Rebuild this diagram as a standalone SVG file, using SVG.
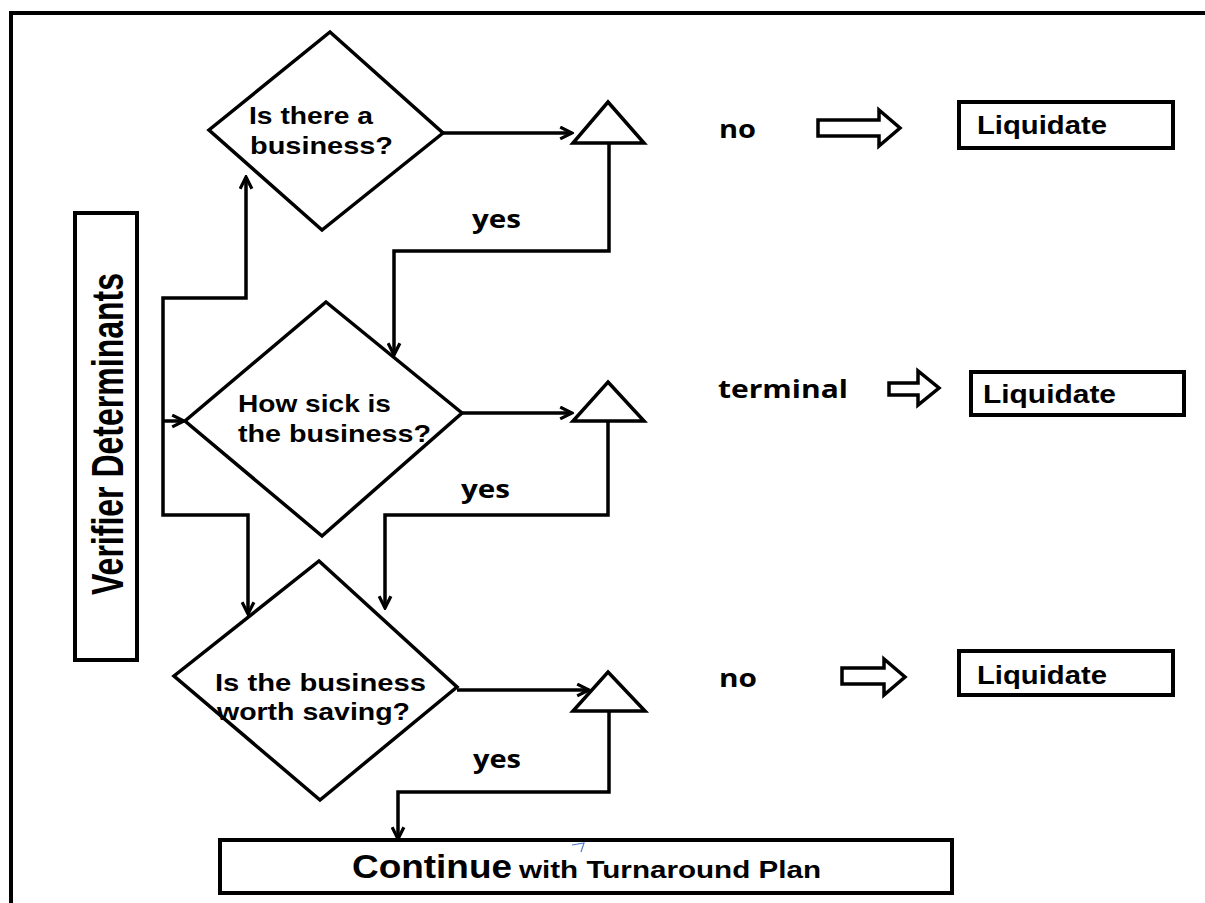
<svg xmlns="http://www.w3.org/2000/svg" width="1205" height="903" viewBox="0 0 1205 903">
<style>
.shape{fill:#fff;stroke:#000;stroke-width:3.5;stroke-linejoin:miter}
.box{fill:#fff;stroke:#000;stroke-width:4}
.conn{fill:none;stroke:#000;stroke-width:3.5;stroke-linejoin:miter}
.t{font-family:"Liberation Sans",Arial,sans-serif;font-weight:bold;fill:#000}
.s{font-family:"Open Sans","Noto Sans",sans-serif;font-weight:bold;fill:#000}
.blk{fill:#fff;stroke:#000;stroke-width:3.5;stroke-linejoin:miter}
</style>
<defs>
<marker id="arr" viewBox="0 0 14 14" refX="12.5" refY="7" markerWidth="15" markerHeight="15" markerUnits="userSpaceOnUse" orient="auto">
<path d="M1.5,1.5 L12.5,7 L1.5,12.5" fill="none" stroke="#000" stroke-width="3"/>
</marker>
</defs>
<rect width="1205" height="903" fill="#fff"/>
<path d="M11,903 L11,13 L1205,13" fill="none" stroke="#000" stroke-width="4"/>

<g id="connectors">
<path class="conn" d="M163,421 L163,298 L246,298 L246,177" marker-end="url(#arr)"/>
<path class="conn" d="M163,421 L163,515 L248,515 L248,614" marker-end="url(#arr)"/>
<path class="conn" d="M163,421 L184,421" marker-end="url(#arr)"/>
<path class="conn" d="M443,133 L572,133" marker-end="url(#arr)"/>
<path class="conn" d="M609,143 L609,251 L394,251 L394,355" marker-end="url(#arr)"/>
<path class="conn" d="M462,413 L572,413" marker-end="url(#arr)"/>
<path class="conn" d="M608,421 L608,515 L385,515 L385,608" marker-end="url(#arr)"/>
<path class="conn" d="M457,690 L589,690" marker-end="url(#arr)"/>
<path class="conn" d="M609,711 L609,792 L398,792 L398,839" marker-end="url(#arr)" stroke-width="4"/>
<path class="blk" d="M818,120 L879,120 L879,110 L900,128 L879,146 L879,136 L818,136 Z"/>
<path class="blk" d="M889,383 L918,383 L918,371 L939,388 L918,405 L918,395 L889,395 Z"/>
<path class="blk" d="M842,668 L884,668 L884,659 L905,677 L884,695 L884,684 L842,684 Z"/>
</g>

<g id="verifier">
<rect class="box" x="75" y="213" width="62" height="447"/>
<text class="t" font-size="44" transform="translate(123,595) rotate(-90)" textLength="322" lengthAdjust="spacingAndGlyphs">Verifier Determinants</text>
</g>

<g id="q1">
<polygon class="shape" points="330,32 443,133 322,230 209,130"/>
<text class="t" font-size="24" x="249" y="124" textLength="124" lengthAdjust="spacingAndGlyphs">Is there a</text>
<text class="t" font-size="24" x="250" y="154" textLength="143" lengthAdjust="spacingAndGlyphs">business?</text>
</g>
<g id="q2">
<polygon class="shape" points="326,302 462,413 322,536 185,421"/>
<text class="t" font-size="24" x="238" y="412" textLength="153" lengthAdjust="spacingAndGlyphs">How sick is</text>
<text class="t" font-size="24" x="238" y="442" textLength="193" lengthAdjust="spacingAndGlyphs">the business?</text>
</g>
<g id="q3">
<polygon class="shape" points="319,561 457,687 320,800 174,676"/>
<text class="t" font-size="24" x="215" y="691" textLength="211" lengthAdjust="spacingAndGlyphs">Is the business</text>
<text class="t" font-size="24" x="217" y="720" textLength="193" lengthAdjust="spacingAndGlyphs">worth saving?</text>
</g>

<g id="tri1"><polygon class="shape" points="608,102 644,143 573,143"/></g>
<g id="tri2"><polygon class="shape" points="608,382 644,421 573,421"/></g>
<g id="tri3"><polygon class="shape" points="608,672 645,711 573,711"/></g>

<g id="labels">
<text class="s" font-size="25" x="719" y="138" textLength="37" lengthAdjust="spacingAndGlyphs">no</text>
<text class="s" font-size="25" x="472" y="228" textLength="49" lengthAdjust="spacingAndGlyphs">yes</text>
<text class="s" font-size="25" x="718" y="398" textLength="130" lengthAdjust="spacingAndGlyphs">terminal</text>
<text class="s" font-size="25" x="461" y="498" textLength="49" lengthAdjust="spacingAndGlyphs">yes</text>
<text class="s" font-size="25" x="719" y="687" textLength="38" lengthAdjust="spacingAndGlyphs">no</text>
<text class="s" font-size="25" x="473" y="768" textLength="48" lengthAdjust="spacingAndGlyphs">yes</text>
</g>

<g id="liq1">
<rect class="box" x="959" y="102" width="214" height="46"/>
<text class="t" font-size="25" x="977" y="134" textLength="130" lengthAdjust="spacingAndGlyphs">Liquidate</text>
</g>
<g id="liq2">
<rect class="box" x="971" y="372" width="213" height="43"/>
<text class="t" font-size="25" x="983" y="403" textLength="133" lengthAdjust="spacingAndGlyphs">Liquidate</text>
</g>
<g id="liq3">
<rect class="box" x="959" y="651" width="214" height="44"/>
<text class="t" font-size="25" x="977" y="684" textLength="130" lengthAdjust="spacingAndGlyphs">Liquidate</text>
</g>

<g id="continue">
<rect class="box" x="220" y="840" width="732" height="53"/>
<text class="t" x="352" y="878" font-size="34" textLength="160" lengthAdjust="spacingAndGlyphs">Continue</text>
<text class="t" x="519" y="878" font-size="24" textLength="302" lengthAdjust="spacingAndGlyphs">with Turnaround Plan</text>
<path d="M572,845 L584,843 L581,852" fill="none" stroke="#4a7fd0" stroke-width="1.2"/>
</g>
</svg>
